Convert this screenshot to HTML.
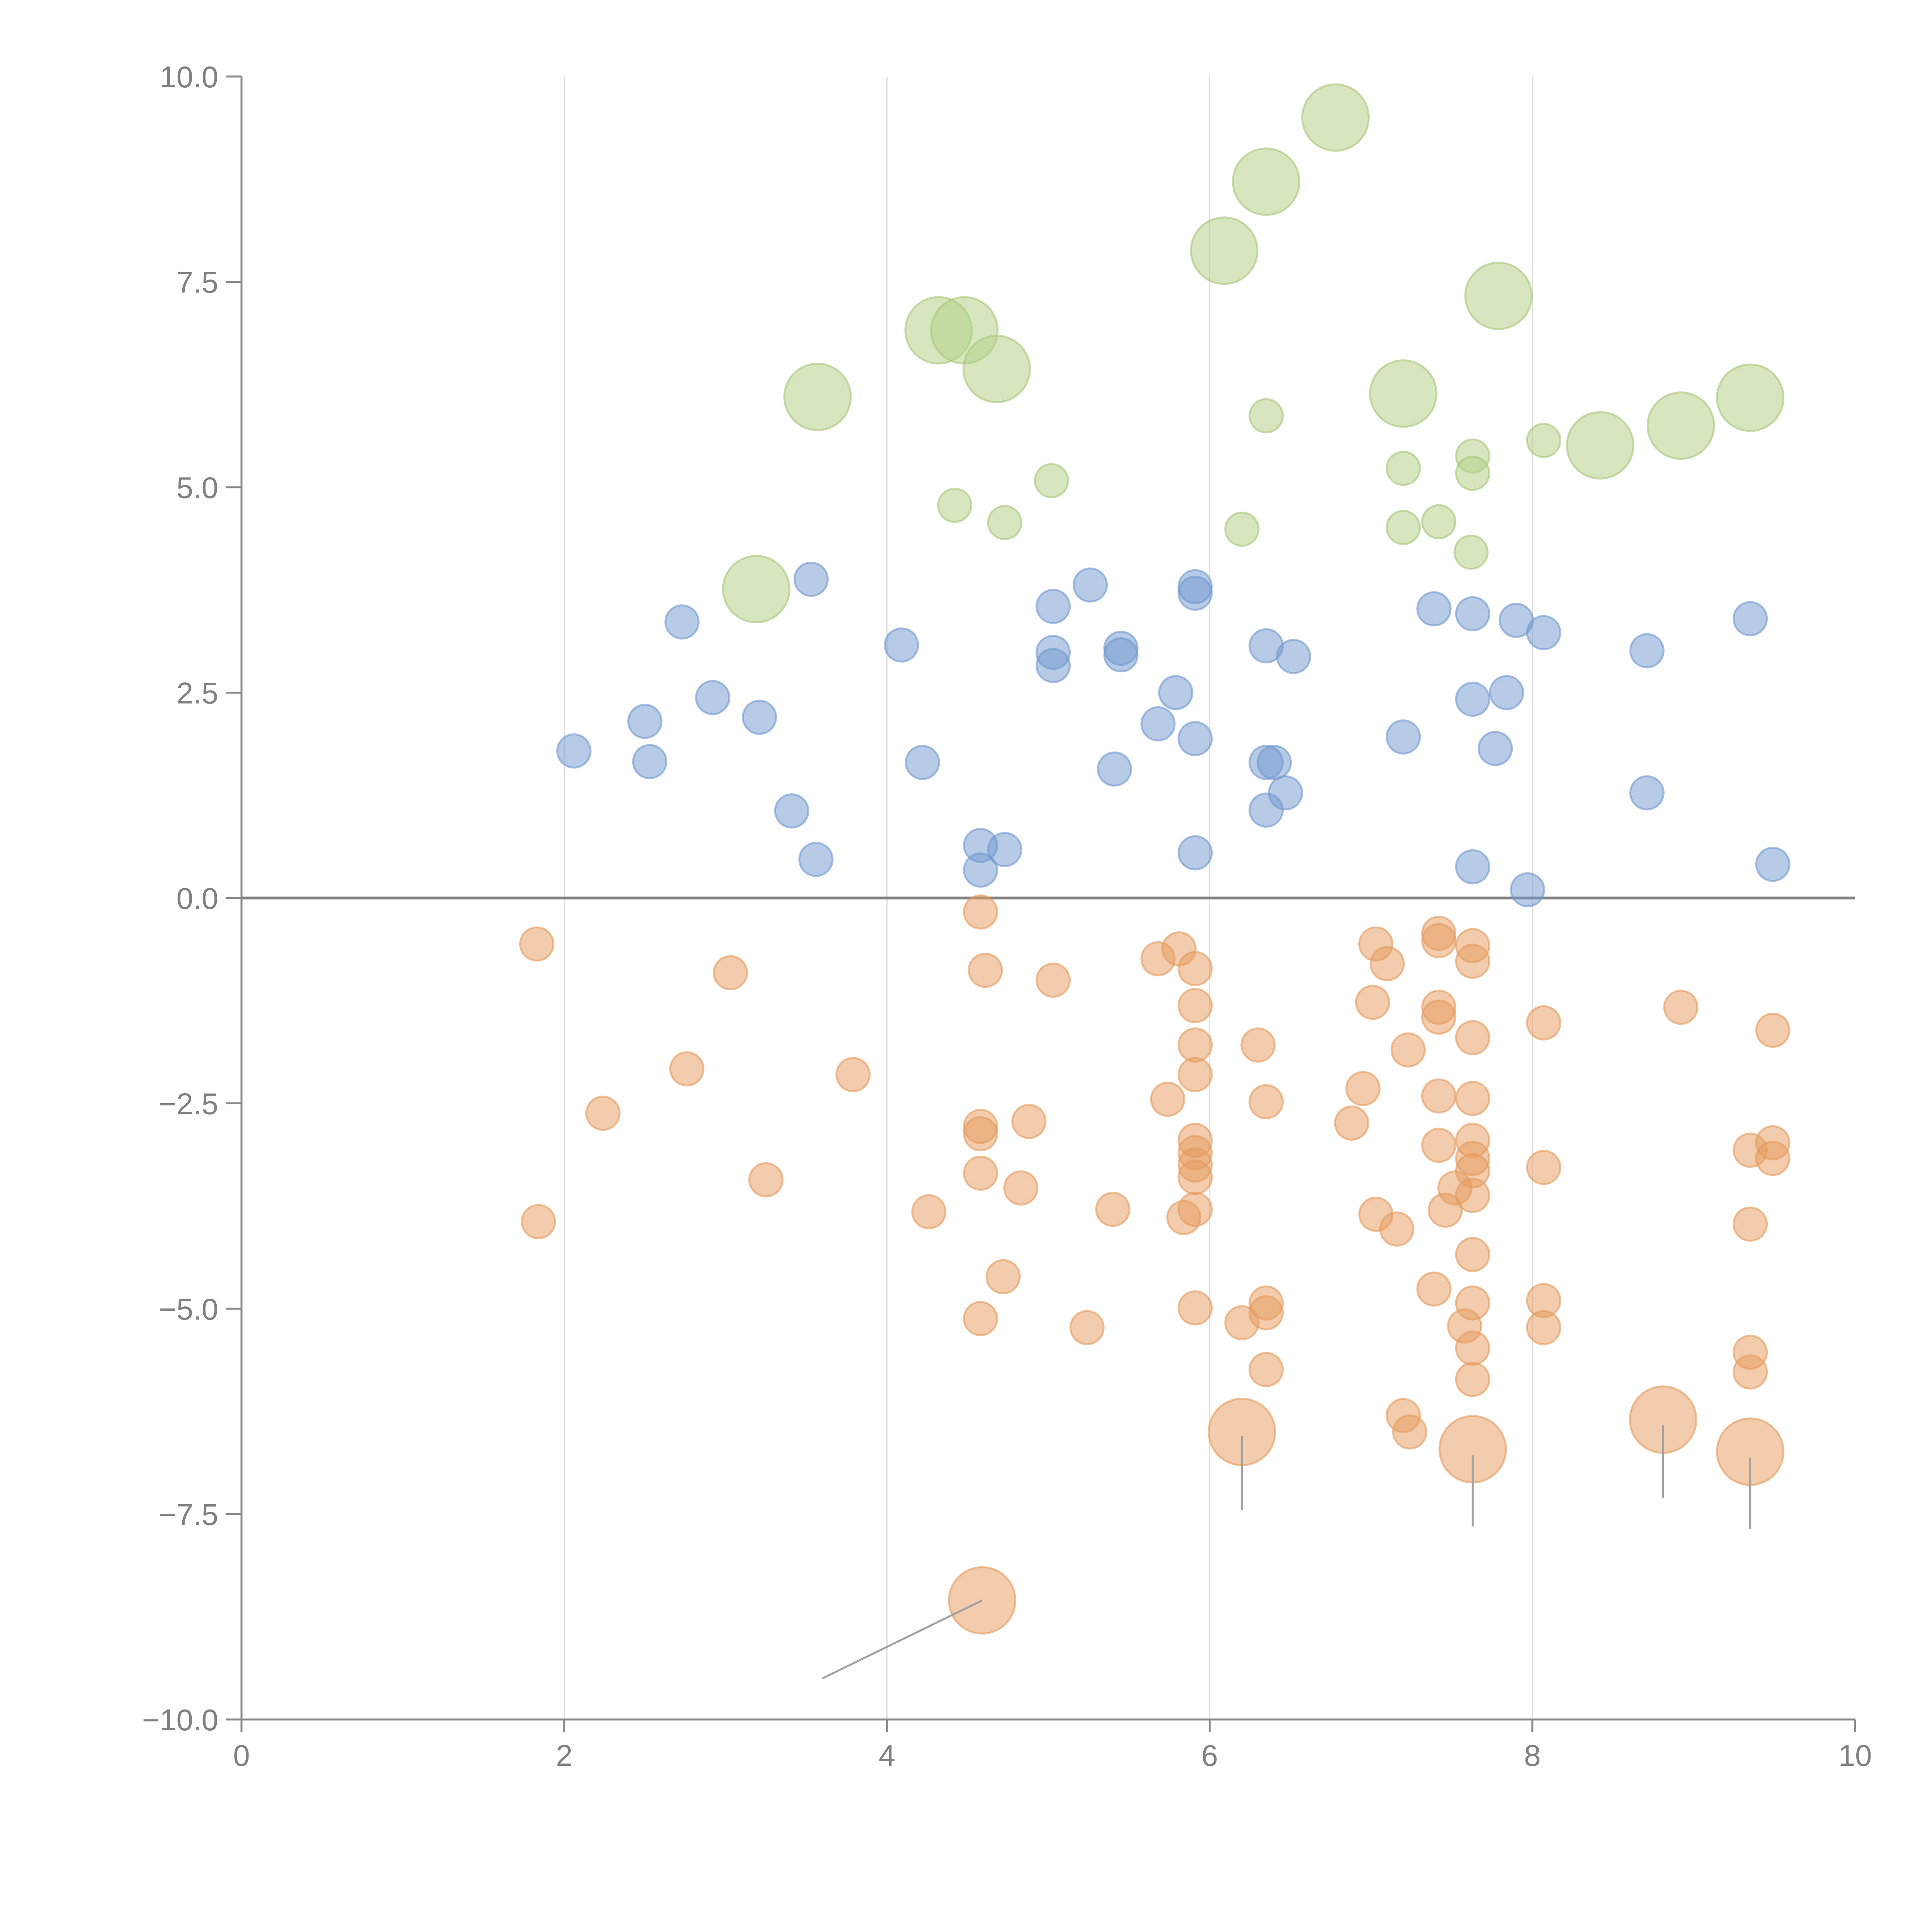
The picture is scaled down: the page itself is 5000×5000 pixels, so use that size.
<!DOCTYPE html>
<html><head><meta charset="utf-8"><style>
html,body{margin:0;padding:0;background:#fff;}
svg{display:block;}
text{font-family:"Liberation Sans",sans-serif;fill:#808080;}
</style></head><body>
<svg id="chart" width="5000" height="5000" viewBox="0 0 5000 5000" xmlns="http://www.w3.org/2000/svg">
<g id="grid"></g>
<g id="axes"></g>
<g id="marks"></g>
</svg>
<script>
const xTicks=[0,2,4,6,8,10];
const yTicks=[-10,-7.5,-5,-2.5,0,2.5,5,7.5,10];
const yTickLabels=["\u221210.0","\u22127.5","\u22125.0","\u22122.5","0.0","2.5","5.0","7.5","10.0"];
const blueX=[2.06,2.50,2.53,2.73,2.92,3.21,3.41,3.53,3.56,4.09,4.22,4.58,4.58,4.73,5.03,5.03,5.03,5.26,5.41,5.45,5.45,5.68,5.79,5.91,5.91,5.91,5.91,6.35,6.35,6.35,6.40,6.47,6.52,7.20,7.39,7.63,7.63,7.63,7.77,7.84,7.90,7.97,8.07,8.71,8.71,9.35,9.49];
const blueY=[1.79,2.15,1.66,3.36,2.44,2.20,1.06,3.88,0.47,3.08,1.65,0.64,0.34,0.59,3.55,2.99,2.83,3.81,1.57,3.04,2.96,2.12,2.50,3.79,3.71,1.94,0.55,3.07,1.65,1.07,1.65,1.28,2.94,1.96,3.52,3.46,2.42,0.38,1.82,2.50,3.38,0.10,3.23,3.01,1.28,3.40,0.41];
const greenX=[3.19,3.57,4.32,4.48,4.68,4.42,4.73,5.02,6.09,6.35,6.78,6.20,6.35,7.20,7.20,7.20,7.42,7.62,7.63,7.63,7.79,8.07,8.42,8.92,9.35];
const greenY=[3.76,6.10,6.91,6.91,6.44,4.78,4.57,5.08,7.88,8.72,9.50,4.49,5.87,6.14,5.23,4.51,4.58,4.21,5.38,5.17,7.33,5.57,5.51,5.75,6.09];
const greenBig=[1,1,1,1,1,0,0,0,1,1,1,0,0,1,0,0,0,0,0,0,1,0,1,1,1];
const orangeX=[1.83,1.84,2.24,2.76,3.03,3.25,3.79,4.26,4.58,4.61,4.58,4.58,4.58,4.58,4.72,4.83,4.88,5.03,5.24,5.40,5.68,5.74,5.81,5.84,5.91,5.91,5.91,5.91,5.91,5.91,5.91,5.91,5.91,5.91,6.20,6.30,6.35,6.35,6.35,6.35,6.88,6.95,7.01,7.03,7.03,7.10,7.16,7.23,7.20,7.24,7.39,7.42,7.42,7.42,7.42,7.42,7.42,7.46,7.52,7.58,7.63,7.63,7.63,7.63,7.63,7.63,7.63,7.63,7.63,7.63,7.63,7.63,8.07,8.07,8.07,8.07,8.92,9.35,9.35,9.35,9.35,9.49,9.49,9.49,4.59,6.20,7.63,8.81,9.35];
const orangeY=[-0.56,-3.94,-2.62,-2.08,-0.91,-3.43,-2.15,-3.82,-0.17,-0.88,-2.78,-2.87,-3.35,-5.12,-4.61,-3.53,-2.72,-1.00,-5.23,-3.79,-0.74,-2.45,-0.62,-3.89,-0.86,-1.31,-1.79,-2.15,-2.95,-3.10,-3.25,-3.40,-3.79,-4.99,-5.17,-1.79,-2.48,-4.93,-5.05,-5.74,-2.74,-2.32,-1.27,-0.56,-3.85,-0.80,-4.03,-1.85,-6.30,-6.50,-4.76,-0.43,-0.52,-1.33,-1.45,-2.41,-3.01,-3.80,-3.53,-5.21,-0.58,-0.77,-1.70,-2.44,-2.95,-3.17,-3.32,-3.62,-4.34,-4.93,-5.48,-5.86,-1.52,-3.28,-4.90,-5.23,-1.33,-3.07,-3.97,-5.53,-5.77,-1.61,-2.98,-3.17,-8.55,-6.50,-6.71,-6.35,-6.74];
const orangeBigStart=84;
const calloutX=[4.59,6.20,7.63,8.81,9.35];
const calloutFromY=[-8.55,-6.55,-6.78,-6.42,-6.82];
const calloutToX=[3.60,6.20,7.63,8.81,9.35];
const calloutToY=[-9.50,-7.45,-7.65,-7.30,-7.68];

const L=625,R=4801,T=198,B=4450;
const sx=v=>L+(v-0)/(10-0)*(R-L);
const sy=v=>B-(v+10)/20*(B-T);
const NS="http://www.w3.org/2000/svg";
function mk(tag,parent,attrs){const e=document.createElementNS(NS,tag);for(const k in attrs)e.setAttribute(k,attrs[k]);parent.appendChild(e);return e;}
const grid=document.getElementById('grid'),axes=document.getElementById('axes'),marks=document.getElementById('marks');

xTicks.forEach(t=>{
  if(t>0&&t<10){const g=mk('line',grid,{x1:sx(t),x2:sx(t),y1:T,y2:B,stroke:'#dddddd','stroke-width':3});
  
  }
  const tk=mk('line',axes,{x1:sx(t),x2:sx(t),y1:B,y2:B+32,stroke:'#888','stroke-width':5});
  
  
  const tx=mk('text',axes,{x:sx(t),y:B+120,'font-size':78,'text-anchor':'middle'});
  tx.textContent=t;
  
  
});
yTicks.forEach((t,i)=>{
  const tk=mk('line',axes,{x1:L-40,x2:L,y1:sy(t),y2:sy(t),stroke:'#888','stroke-width':5});
  
  
  const tx=mk('text',axes,{x:L-60,y:sy(t)+28,'font-size':78,'text-anchor':'end'});
  tx.textContent=yTickLabels[i];
  
  
});
const ya=mk('line',axes,{x1:L,x2:L,y1:T,y2:B,stroke:'#888','stroke-width':5});


const xa=mk('line',axes,{x1:L,x2:R,y1:B,y2:B,stroke:'#888','stroke-width':5});


const zl=mk('line',axes,{x1:L,x2:R,y1:sy(0),y2:sy(0),stroke:'#808080','stroke-width':7});



function dot(x,y,r,fill,stroke,name){
  const c=mk('circle',marks,{cx:sx(x),cy:sy(y),r:r,fill:fill,'fill-opacity':0.5,stroke:stroke,'stroke-opacity':0.6,'stroke-width':5});
  
  
}
orangeX.forEach((x,i)=>dot(x,orangeY[i],i>=orangeBigStart?86:43,'#e59a5c','#e59a5c','orange-bubble'));
greenX.forEach((x,i)=>dot(x,greenY[i],greenBig[i]?86:43,'#b1cd82','#a6c578','green-bubble'));
blueX.forEach((x,i)=>dot(x,blueY[i],43,'#6f97cf','#6f97cf','blue-bubble'));
calloutX.forEach((x,i)=>{
  const l=mk('line',marks,{x1:sx(x),y1:sy(calloutFromY[i]),x2:sx(calloutToX[i]),y2:sy(calloutToY[i]),stroke:'#a0a0a0','stroke-width':5});
  
  
});
</script>
</body></html>
